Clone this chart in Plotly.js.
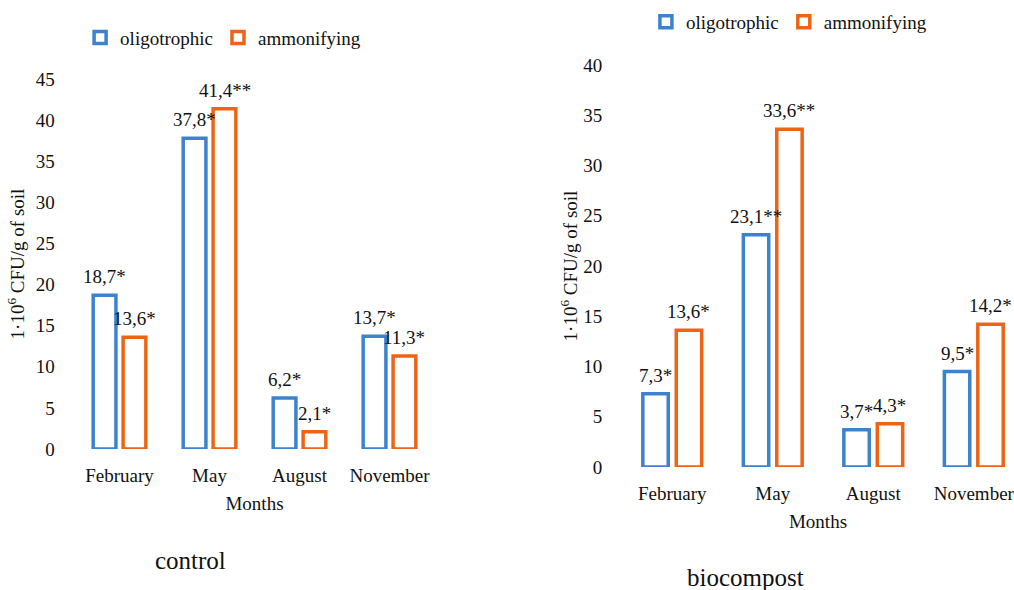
<!DOCTYPE html>
<html>
<head>
<meta charset="utf-8">
<script src="https://cdn.plot.ly/plotly-3.0.1.min.js"></script>
<style>html,body{margin:0;padding:0;background:#fff;}#chart{width:1014px;height:590px;}</style>
</head>
<body>
<div id="chart"></div>
<script>
const months = ["February", "May", "August", "November"];
const controlOligo = [18.7, 37.8, 6.2, 13.7];
const controlAmmon = [13.6, 41.4, 2.1, 11.3];
const controlOligoLabels = ["18,7*", "37,8*", "6,2*", "13,7*"];
const controlAmmonLabels = ["13,6*", "41,4**", "2,1*", "11,3*"];
const bioOligo = [7.3, 23.1, 3.7, 9.5];
const bioAmmon = [13.6, 33.6, 4.3, 14.2];
const bioOligoLabels = ["7,3*", "23,1**", "3,7*", "9,5*"];
const bioAmmonLabels = ["13,6*", "33,6**", "4,3*", "14,2*"];
const seriesNames = ["oligotrophic", "ammonifying"];
const yTitle = "1·10<sup>6</sup> CFU/g of soil";
const xTitle = "Months";
const panelTitles = ["control", "biocompost"];

const BLUE = "#3C82CE", ORANGE = "#EE6414";
const FONT = "Liberation Serif";

function barTrace(y, name, color, xa, ya, legend) {
  return {
    type: "bar", x: months, y: y, name: name,
    marker: {color: "rgba(255,255,255,0)", line: {color: color, width: 3.5}},
    xaxis: xa, yaxis: ya, legend: legend, hoverinfo: "skip"
  };
}

const data = [
  barTrace(controlOligo, seriesNames[0], BLUE, "x", "y", "legend"),
  barTrace(controlAmmon, seriesNames[1], ORANGE, "x", "y", "legend"),
  barTrace(bioOligo, seriesNames[0], BLUE, "x2", "y2", "legend2"),
  barTrace(bioAmmon, seriesNames[1], ORANGE, "x2", "y2", "legend2")
];

// value labels placed above each bar (data coordinates from the arrays)
const annotations = [];
function addLabels(vals, labels, xref, yref, shift) {
  vals.forEach((v, i) => {
    annotations.push({
      x: months[i], y: v, xref: xref, yref: yref, text: labels[i],
      showarrow: false, xanchor: "center", yanchor: "bottom",
      xshift: shift, yshift: 6,
      font: {family: FONT, size: 19, color: "#111"}
    });
  });
}
addLabels(controlOligo, controlOligoLabels, "x", "y", -15);
addLabels(controlAmmon, controlAmmonLabels, "x", "y", 15);
addLabels(bioOligo, bioOligoLabels, "x2", "y2", -16.7);
addLabels(bioAmmon, bioAmmonLabels, "x2", "y2", 16.7);

annotations.push(
  {text: panelTitles[0], xref: "paper", yref: "paper", x: 190/1014, y: 1 - 560/590,
   xanchor: "center", yanchor: "middle", showarrow: false, font: {family: FONT, size: 25, color: "#111"}},
  {text: panelTitles[1], xref: "paper", yref: "paper", x: 745/1014, y: 1 - 577/590,
   xanchor: "center", yanchor: "middle", showarrow: false, font: {family: FONT, size: 25, color: "#111"}}
);

const tickFont = {family: FONT, size: 19, color: "#111"};
function xAxis(domain, range, anchor) {
  return {domain: domain, range: range, anchor: anchor, type: "category",
    showgrid: false, zeroline: false, showline: false,
    ticks: "outside", ticklen: 9, tickcolor: "rgba(0,0,0,0)",
    tickfont: tickFont, fixedrange: true,
    title: {text: xTitle, font: tickFont, standoff: 11}};
}
function yAxis(domain, range, dtick, anchor, standoff) {
  return {domain: domain, range: range, dtick: dtick, anchor: anchor,
    showgrid: false, zeroline: false, showline: false,
    ticks: "outside", ticklen: 15, tickcolor: "rgba(0,0,0,0)",
    tickfont: tickFont, fixedrange: true,
    title: {text: yTitle, font: tickFont, standoff: standoff}};
}

const legendFont = {family: FONT, size: 19, color: "#111"};
const layout = {
  width: 1014, height: 590,
  margin: {l: 0, r: 0, t: 0, b: 0},
  paper_bgcolor: "#fff", plot_bgcolor: "rgba(0,0,0,0)",
  font: {family: FONT, color: "#111"},
  barmode: "group", bargap: 0.335, bargroupgap: 0.24,
  xaxis: xAxis([0.0735, 0.4285], [-0.5, 3.5], "y"),
  yaxis: yAxis([0.239, 0.866], [0, 45], 5, "x", 6),
  xaxis2: xAxis([0.6134, 1.0], [-0.5, 3.4], "y2"),
  yaxis2: yAxis([0.2085, 0.8898], [0, 40], 5, "x2", 0),
  legend: {orientation: "h", x: 0.079, y: 0.936, xanchor: "left", yanchor: "middle",
    font: legendFont, bgcolor: "rgba(0,0,0,0)", itemwidth: 30},
  legend2: {orientation: "h", x: 0.637, y: 0.963, xanchor: "left", yanchor: "middle",
    font: legendFont, bgcolor: "rgba(0,0,0,0)", itemwidth: 30},
  annotations: annotations
};

Plotly.newPlot("chart", data, layout, {displayModeBar: false, staticPlot: true});
</script>
</body>
</html>
